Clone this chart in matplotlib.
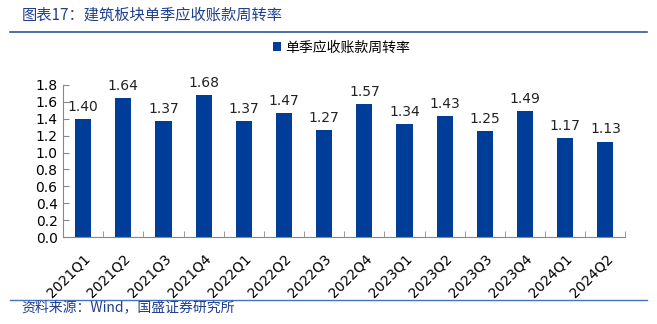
import matplotlib.pyplot as plt
import numpy as np
from matplotlib.lines import Line2D

plt.rcParams['font.family'] = ['DejaVu Sans', 'Noto Sans CJK SC']

quarters = ["2021Q1", "2021Q2", "2021Q3", "2021Q4", "2022Q1", "2022Q2", "2022Q3",
            "2022Q4", "2023Q1", "2023Q2", "2023Q3", "2023Q4", "2024Q1", "2024Q2"]
turnover = [1.40, 1.64, 1.37, 1.68, 1.37, 1.47, 1.27, 1.57, 1.34, 1.43, 1.25, 1.49, 1.17, 1.13]
yticks = [0.0, 0.2, 0.4, 0.6, 0.8, 1.0, 1.2, 1.4, 1.6, 1.8]

bar_color = "#003D99"
title_color = "#1F3F8F"
cjk = ['Noto Sans CJK SC', 'DejaVu Sans']

fig = plt.figure(figsize=(6.57, 3.24), dpi=100)
ax = fig.add_axes([0.096, 0.268, 0.856, 0.47])

x = np.arange(len(quarters))
bars = ax.bar(x, turnover, width=0.4, color=bar_color, label="单季应收账款周转率")
for xi, v in zip(x, turnover):
    ax.text(xi, v + 0.06, f"{v:.2f}", ha="center", va="bottom", fontsize=10, color="#222222")

ax.set_xlim(-0.5, len(quarters) - 0.5)
ax.set_ylim(0, 1.8)
ax.set_yticks(yticks)
ax.set_yticklabels([f"{t:.1f}" for t in yticks], fontsize=10)
ax.set_xticks(x)
ax.set_xticklabels(quarters, rotation=45, ha="right", rotation_mode="anchor", fontsize=10)
ax.set_xticks(np.arange(len(quarters) + 1) - 0.5, minor=True)
ax.tick_params(axis="x", which="major", length=0, pad=10)
ax.tick_params(axis="x", which="minor", direction="in", length=4, color="#888888")
ax.tick_params(axis="y", direction="in", length=4, color="#888888", pad=4)
for s in ["top", "right"]:
    ax.spines[s].set_visible(False)
ax.spines["left"].set_color("#888888")
ax.spines["bottom"].set_color("#888888")

leg = fig.legend(handles=[bars], loc="center", bbox_to_anchor=(0.52, 0.853), frameon=False,
                 handlelength=0.6, handleheight=0.6, handletextpad=0.3, prop={'family': cjk, 'size': 10})

fig.text(0.033, 0.953, "图表17：建筑板块单季应收账款周转率", fontsize=11, color=title_color,
         family=cjk, va="center", ha="left")
fig.text(0.033, 0.052, "资料来源：Wind，国盛证券研究所", fontsize=10, color=title_color,
         family=cjk, va="center", ha="left")
fig.add_artist(Line2D([0.015, 0.985], [0.902, 0.902], color="#2F5597", lw=1.2))
fig.add_artist(Line2D([0.015, 0.985], [0.075, 0.075], color="#4472C4", lw=1.0))

fig.savefig("out.png", dpi=100)
